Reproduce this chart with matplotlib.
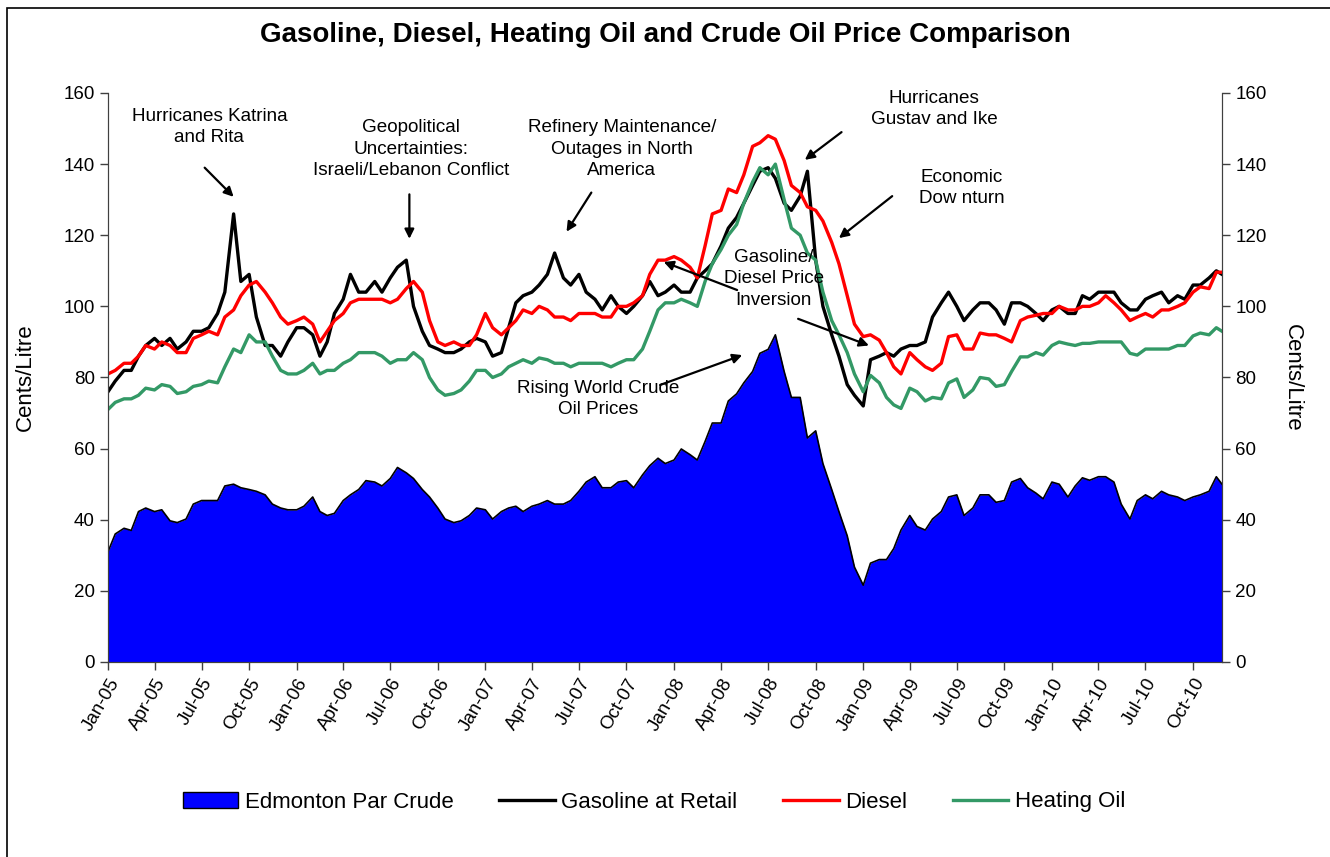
import pandas as pd
import matplotlib
matplotlib.use('Agg')
import matplotlib.pyplot as plt
import matplotlib.dates as mdates
from matplotlib.patches import Patch, Rectangle
from matplotlib.lines import Line2D

plt.rcParams['font.family'] = ['Liberation Sans', 'DejaVu Sans']

# Semi-monthly readings (1st and 15th of each month), cents/litre
dates = list(pd.date_range('2005-01-01', '2010-11-15', freq='SMS')) + [pd.Timestamp('2010-11-26')]

gasoline = [
    76, 79, 82, 82, 86, 89, 91, 89, 91, 88, 90, 93, 93, 94, 98, 104, 126, 107, 109, 97, 89, 89, 86, 90,
    94, 94, 92, 86, 90, 98, 102, 109, 104, 104, 107, 104, 108, 111, 113, 100, 93, 89, 88, 87, 87, 88, 90, 91,
    90, 86, 87, 94, 101, 103, 104, 106, 109, 115, 108, 106, 109, 104, 102, 99, 103, 100, 98, 100, 103, 107, 103, 104,
    106, 104, 104, 108, 110, 112, 117, 122, 125, 129, 134, 138, 139, 136, 129, 127, 131, 138, 113, 100, 92, 86, 78, 75,
    72, 85, 86, 87, 86, 88, 89, 89, 90, 97, 101, 104, 100, 96, 99, 101, 101, 99, 95, 101, 101, 100, 98, 96,
    99, 100, 98, 98, 103, 102, 104, 104, 104, 101, 99, 99, 102, 103, 104, 101, 103, 102, 106, 106, 108, 110, 109,
]
diesel = [
    81, 82, 84, 84, 86, 89, 88, 90, 89, 87, 87, 91, 92, 93, 92, 97, 99, 103, 106, 107, 104, 101, 97, 95,
    96, 97, 95, 90, 93, 96, 98, 101, 102, 102, 102, 102, 101, 102, 105, 107, 104, 96, 90, 89, 90, 89, 89, 92,
    98, 94, 92, 94, 96, 99, 98, 100, 99, 97, 97, 96, 98, 98, 98, 97, 97, 100, 100, 101, 103, 109, 113, 113,
    114, 113, 111, 108, 117, 126, 127, 133, 132, 137, 145, 146, 148, 147, 141, 134, 132, 128, 127, 124, 118, 112, 103, 95,
    91.5, 92, 90.5, 87, 83, 81, 87, 85, 83, 82, 84, 91.5, 92, 88, 88, 92.5, 92, 92, 91, 90, 96, 97, 97.5, 98,
    98, 100, 99, 99, 100, 100, 101, 103, 101, 99, 96, 97, 98, 97, 99, 99, 100, 101, 104, 105.5, 105, 109.6, 109.6,
]
heating_oil = [
    71, 73, 74, 74, 75, 77, 76.5, 78, 77.5, 75.5, 76, 77.5, 78, 79, 78.5, 83, 88, 87, 92, 90, 90, 86, 82, 81,
    81, 82, 84, 81, 82, 82, 84, 85, 87, 87, 87, 86, 84, 85, 85, 87, 85, 80, 76.5, 75, 75.5, 76.5, 79, 82,
    82, 80, 81, 83, 84, 85, 84, 85.5, 85, 84, 84, 83, 84, 84, 84, 84, 83, 84, 85, 85, 88, 93, 99, 101,
    101, 102, 101, 100, 107, 112, 116, 120, 123, 129, 135, 139, 137, 140, 130, 122, 120, 115, 113, 104, 96, 92, 87, 81,
    76, 80.6, 78.5, 74.4, 72.3, 71.3, 77, 76, 73.4, 74.4, 74, 78.5, 79.6, 74.4, 76.5, 80, 79.6, 77.5, 78, 81.7, 85.8, 85.8, 87, 86.3,
    89, 90, 89.4, 89, 89.6, 89.6, 90, 90, 90, 90, 86.8, 86.3, 88, 88, 88, 88, 89, 89, 91.7, 92.5, 92, 94, 93,
]
crude = [
    31, 36, 37.6, 37, 42.3, 43.3, 42.3, 42.8, 39.7, 39.2, 40.2, 44.4, 45.4, 45.4, 45.4, 49.5, 50, 49, 48.5, 48, 47, 44.4, 43.3, 42.8,
    42.8, 43.8, 46.4, 42.3, 41.2, 41.8, 45.4, 47, 48.5, 51, 50.6, 49.5, 51.6, 54.7, 53.2, 51.6, 48.5, 46.4, 43.3, 40.2, 39.2, 39.7, 41.2, 43.3,
    42.8, 40.2, 42.3, 43.3, 43.8, 42.3, 43.8, 44.4, 45.4, 44.4, 44.4, 45.4, 48, 50.6, 52.1, 49, 49, 50.6, 51, 49, 52.6, 55.2, 57.3, 55.8,
    56.8, 59.9, 58.3, 56.8, 62, 67.2, 67.2, 73.4, 75.4, 78.5, 81.7, 86.8, 87.9, 92, 81.7, 74.4, 74.4, 63, 65, 55.8, 48.5, 42.3, 35.5, 26.7,
    21.6, 27.8, 28.8, 28.8, 31.9, 37.1, 41.2, 38.1, 37.1, 40.2, 42.3, 46.4, 47, 41.2, 43.3, 47, 47, 44.9, 45.4, 50.6, 51.6, 49, 47.5, 45.9,
    50.6, 50, 46.4, 49.5, 51.8, 51.1, 52.1, 52.1, 50.6, 44.4, 40.2, 45.4, 47, 45.9, 48, 47, 46.4, 45.4, 46.4, 47, 48, 52.1, 50,
]

series_names = ['Edmonton Par Crude', 'Gasoline at Retail', 'Diesel', 'Heating Oil']

# annotation text, text position (date, value), arrows as (tail, tip)
notes = [
    ('Hurricanes Katrina\nand Rita', ('2005-07-16', 150.5), [(('2005-07-07', 139.0), ('2005-09-01', 130.8))]),
    ('Geopolitical\nUncertainties:\nIsraeli/Lebanon Conflict', ('2006-08-10', 144.2), [(('2006-08-07', 131.5), ('2006-08-07', 119.0))]),
    ('Refinery Maintenance/\nOutages in North\nAmerica', ('2007-09-22', 144.2), [(('2007-07-25', 132.0), ('2007-06-07', 121.0))]),
    ('Hurricanes\nGustav and Ike', ('2009-05-18', 155.5), [(('2008-11-20', 149.0), ('2008-09-10', 141.2))]),
    ('Economic\nDow nturn', ('2009-07-10', 133.3), [(('2009-02-26', 131.0), ('2008-11-15', 119.2))]),
    ('Gasoline/\nDiesel Price\nInversion', ('2008-07-12', 107.7), [(('2008-05-02', 104.6), ('2007-12-12', 112.5)),
                                                              (('2008-08-28', 96.5), ('2009-01-12', 89.0))]),
    ('Rising World Crude\nOil Prices', ('2007-08-08', 74.0), [(('2007-12-05', 77.9), ('2008-05-12', 86.3))]),
]

fig = plt.figure(figsize=(13.3, 8.57), dpi=100)
ax = fig.add_axes([108 / 1330, 1 - 662 / 857, (1222 - 108) / 1330, (662 - 93) / 857])

# crude area with outline
ax.fill_between(dates, crude, 0, color='#0000FF', lw=0, zorder=1)
ax.plot(dates, crude, color='black', lw=1.2, zorder=2)
ax.plot(dates, gasoline, color='black', lw=2.4, zorder=3)
ax.plot(dates, diesel, color='#FF0000', lw=2.4, zorder=4)
ax.plot(dates, heating_oil, color='#339966', lw=2.4, zorder=5)

ax.set_ylim(0, 160)
ax.set_yticks(range(0, 161, 20))
ax.set_xlim(dates[0], dates[-1])
ax.xaxis.set_major_locator(mdates.MonthLocator(bymonth=[1, 4, 7, 10]))
ax.xaxis.set_major_formatter(mdates.DateFormatter('%b-%y'))
ax.tick_params(axis='both', direction='out', length=6, width=1, colors='#404040', labelcolor='black', labelsize=13.5)
plt.setp(ax.get_xticklabels(), rotation=60, ha='right', rotation_mode='anchor')
ax.set_ylabel('Cents/Litre', fontsize=16, labelpad=20)

ax2 = ax.twinx()
ax2.set_ylim(0, 160)
ax2.set_yticks(range(0, 161, 20))
ax2.tick_params(axis='y', direction='out', length=6, width=1, colors='#404040', labelcolor='black', labelsize=13.5)
ax2.set_ylabel('Cents/Litre', fontsize=16, rotation=270, labelpad=26)

for a in (ax, ax2):
    a.spines['top'].set_visible(False)
    for s in ('left', 'right', 'bottom'):
        a.spines[s].set_color('#404040')

for text, tpos, arrows in notes:
    ax.text(pd.Timestamp(tpos[0]), tpos[1], text, ha='center', va='center', fontsize=13.6, linespacing=1.35, zorder=6)
    for tail, tip in arrows:
        ax.annotate('', xy=(pd.Timestamp(tip[0]), tip[1]), xytext=(pd.Timestamp(tail[0]), tail[1]),
                    arrowprops=dict(arrowstyle='-|>', color='black', lw=1.6, mutation_scale=14, shrinkA=0, shrinkB=0),
                    zorder=6)

fig.text(0.5, 1 - 35 / 857, 'Gasoline, Diesel, Heating Oil and Crude Oil Price Comparison',
         ha='center', va='center', fontsize=20, fontweight='bold')

handles = [
    Patch(facecolor='#0000FF', edgecolor='black', lw=1),
    Line2D([], [], color='black', lw=2.4),
    Line2D([], [], color='#FF0000', lw=2.4),
    Line2D([], [], color='#339966', lw=2.4),
]
fig.legend(handles, series_names, loc='center', bbox_to_anchor=(654 / 1330, 1 - 802 / 857), ncol=4,
           frameon=False, fontsize=16, handlelength=2.5, handletextpad=0.3, columnspacing=2.05)

fig.patches.append(Rectangle((7 / 1330, -0.01), 1.2, 1 - 8 / 857 + 0.01, transform=fig.transFigure,
                             fill=False, edgecolor='black', lw=1.2))

fig.savefig('out.png', dpi=100)
